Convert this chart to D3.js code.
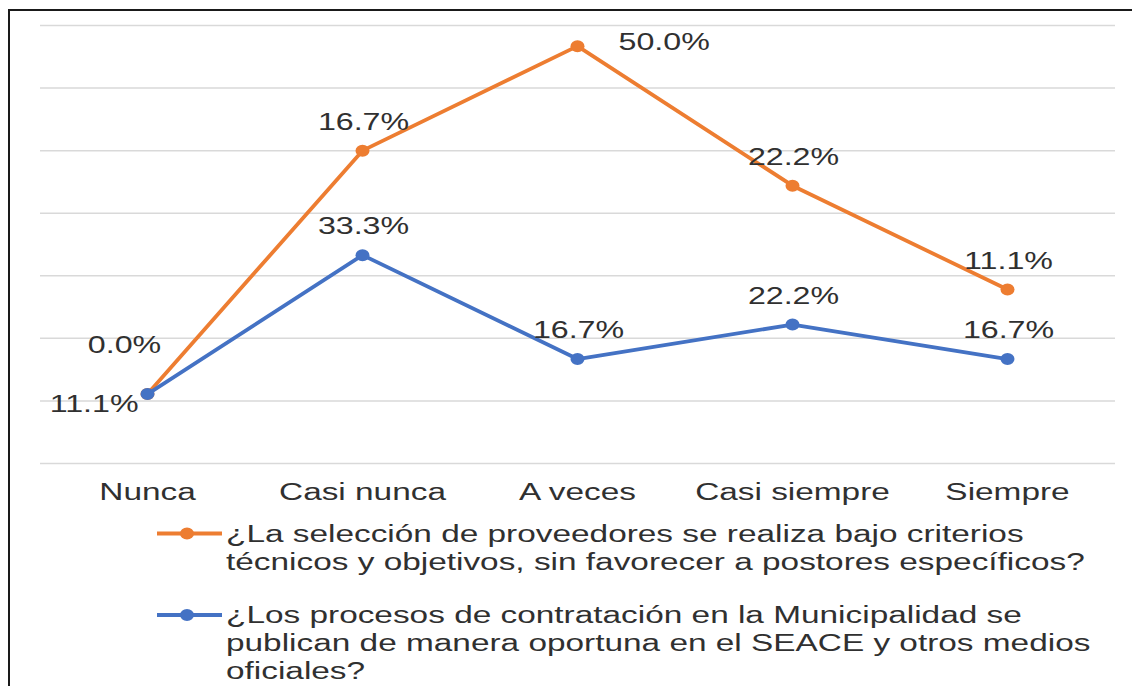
<!DOCTYPE html>
<html>
<head>
<meta charset="utf-8">
<script src="https://cdn.jsdelivr.net/npm/d3@7"></script>
<style>
  html, body { margin: 0; padding: 0; background: #fff; }
  svg { display: block; }
  text { font-family: "Liberation Sans", Arial, sans-serif; fill: #303030; }
</style>
</head>
<body>
<svg id="chart" width="1132" height="686"></svg>
<script>
// ---- data ----
const categories = ["Nunca", "Casi nunca", "A veces", "Casi siempre", "Siempre"];
const seriesNames = [
  ["¿La selección de proveedores se realiza bajo criterios", "técnicos y objetivos, sin favorecer a postores específicos?"],
  ["¿Los procesos de contratación en la Municipalidad se", "publican de manera oportuna en el SEACE y otros medios", "oficiales?"]
];
const seleccionValues = [0.0, 16.7, 50.0, 22.2, 11.1];   // orange (stacked on top of blue)
const publicacionValues = [11.1, 33.3, 16.7, 22.2, 16.7]; // blue
const gridTicks = [0, 10, 20, 30, 40, 50, 60, 70];
// label placement keywords per point
const seleccionPlacement = ["aboveLeft", "above", "right", "above", "above"];
const publicacionPlacement = ["left", "above", "above", "above", "above"];

const colors = { orange: "#ED7D31", blue: "#4472C4" };

const svg = d3.select("#chart");
const FS = 23.5, SX = 1.42, SXL = 1.37;

// outer frame (left + top only visible)
svg.append("path")
  .attr("d", "M9,686 L9,10 L1132,10")
  .attr("fill", "none").attr("stroke", "#1a1a1a").attr("stroke-width", 2);

const x = d3.scaleBand().domain(categories).range([40, 1115]);
const y = d3.scaleLinear().domain([0, 70]).range([463.5, 25.5]);
const cx = d => x(d) + x.bandwidth() / 2;

// gridlines
svg.append("g").selectAll("line").data(gridTicks).join("line")
  .attr("x1", 40).attr("x2", 1115)
  .attr("y1", d => y(d)).attr("y2", d => y(d))
  .attr("stroke", "#d9d9d9").attr("stroke-width", 1.5);

// category axis labels
const xAxis = d3.axisBottom(x).tickSize(0).tickPadding(0);
const gx = svg.append("g").call(xAxis);
gx.select(".domain").remove();
gx.selectAll(".tick text")
  .attr("y", 0).attr("dy", null)
  .attr("transform", `translate(0,500) scale(${SX},1)`)
  .style("font-size", FS + "px")
  .style("font-family", "'Liberation Sans', Arial, sans-serif")
  .attr("fill", "#303030");

// stacked series
const blueTop = publicacionValues.slice();
const orangeTop = seleccionValues.map((v, i) => v + publicacionValues[i]);

const line = d3.line().x((d, i) => cx(categories[i])).y(d => y(d));

function drawSeries(tops, color) {
  svg.append("path").datum(tops)
    .attr("d", line).attr("fill", "none")
    .attr("stroke", color).attr("stroke-width", 3.8)
    .attr("stroke-linejoin", "round");
  svg.append("g").selectAll("ellipse").data(tops).join("ellipse")
    .attr("cx", (d, i) => cx(categories[i])).attr("cy", d => y(d))
    .attr("rx", 7).attr("ry", 6).attr("fill", color);
}
drawSeries(orangeTop, colors.orange);
drawSeries(blueTop, colors.blue);

function labelPos(p, px, py) {
  switch (p) {
    case "right": return { x: px + 41, y: py + 4, anchor: "start" };
    case "left": return { x: px - 9, y: py + 18, anchor: "end" };
    case "aboveLeft": return { x: px - 23, y: py - 41, anchor: "middle" };
    default: return { x: px + 1, y: py - 21, anchor: "middle" };
  }
}
function drawLabels(vals, tops, placement) {
  svg.append("g").selectAll("text").data(vals).join("text")
    .each(function (d, i) {
      const pos = labelPos(placement[i], cx(categories[i]), y(tops[i]));
      d3.select(this)
        .attr("transform", `translate(${pos.x},${pos.y}) scale(${SXL},1)`)
        .attr("text-anchor", pos.anchor)
        .style("font-size", FS + "px")
        .text(d3.format(".1f")(d) + "%");
    });
}
drawLabels(seleccionValues, orangeTop, seleccionPlacement);
drawLabels(publicacionValues, blueTop, publicacionPlacement);

// legend
const legendItems = [
  { lines: seriesNames[0], color: colors.orange, y: 533.5 },
  { lines: seriesNames[1], color: colors.blue, y: 615 }
];
const lg = svg.append("g");
legendItems.forEach(item => {
  lg.append("line").attr("x1", 157).attr("x2", 222)
    .attr("y1", item.y).attr("y2", item.y)
    .attr("stroke", item.color).attr("stroke-width", 3.8);
  lg.append("ellipse").attr("cx", 187).attr("cy", item.y)
    .attr("rx", 7).attr("ry", 6).attr("fill", item.color);
  item.lines.forEach((t, k) => {
    lg.append("text")
      .attr("transform", `translate(226,${item.y + 8 + k * 28}) scale(${SX},1)`)
      .style("font-size", FS + "px")
      .text(t);
  });
});
</script>
</body>
</html>
